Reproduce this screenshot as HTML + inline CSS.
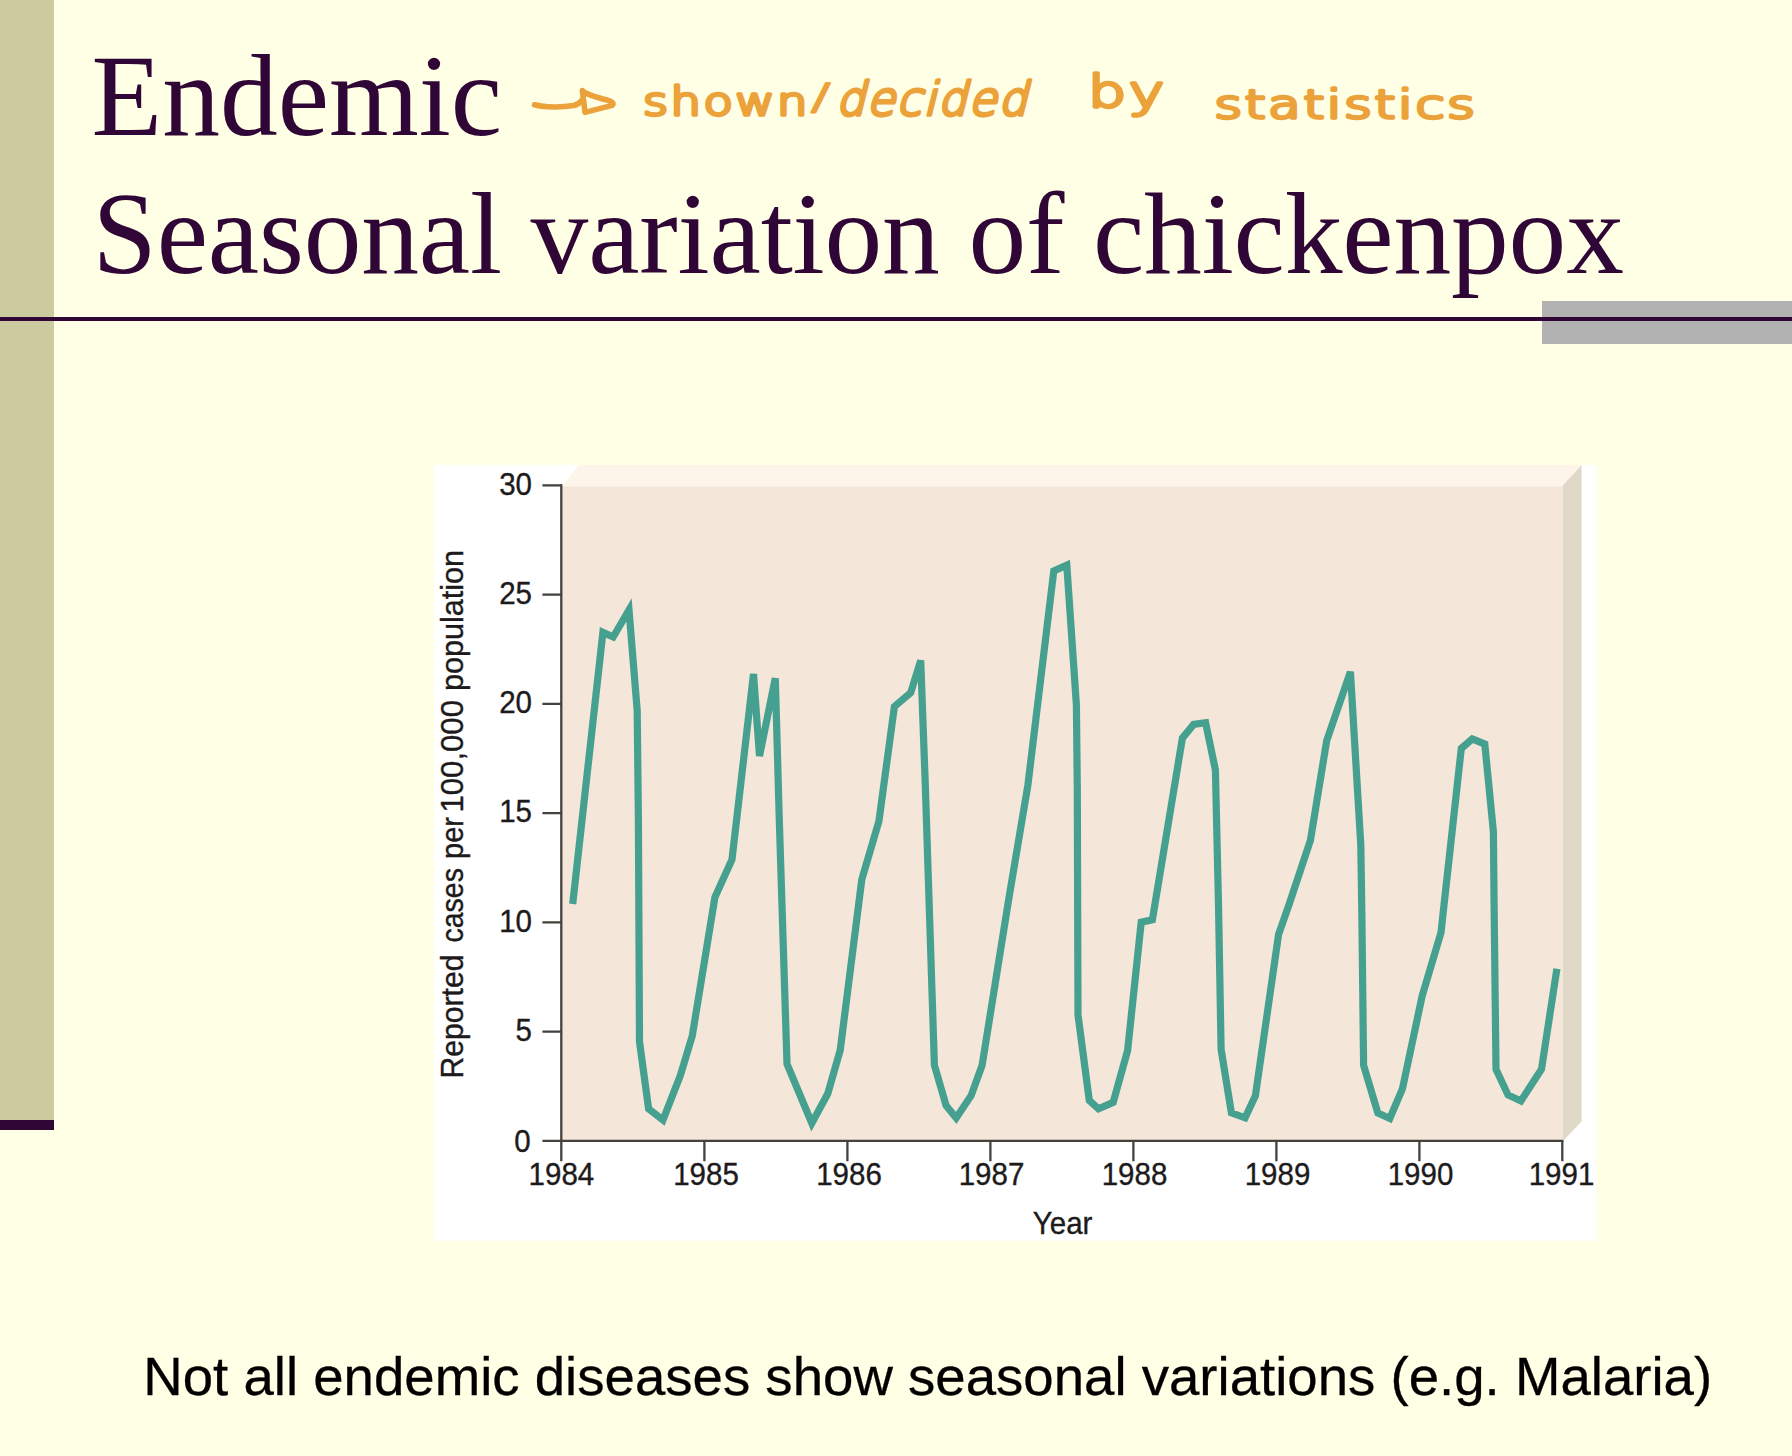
<!DOCTYPE html>
<html lang="en">
<head>
<meta charset="utf-8">
<title>Endemic - Seasonal variation of chickenpox</title>
<style>
  html, body { margin: 0; padding: 0; }
  body {
    width: 1792px; height: 1456px; overflow: hidden; position: relative;
    background: #ffffe6;
    font-family: "Liberation Sans", sans-serif;
  }
  .sidebar { position: absolute; left: 0; top: 0; width: 53.5px; height: 1119.5px; background: #cccba0; }
  .sidefoot { position: absolute; left: 0; top: 1119.5px; width: 53.5px; height: 10.2px; background: #300636; }
  .grayblock { position: absolute; left: 1542px; top: 301px; width: 250px; height: 43px; background: #b2b2b2; }
  .rule { position: absolute; left: 0; top: 316.7px; width: 1792px; height: 4.3px; background: #300636; }
  .title {
    position: absolute; margin: 0; white-space: nowrap;
    font-family: "Liberation Serif", serif; font-weight: normal;
    font-size: 115.5px; line-height: 1; color: #300636;
  }
  #t1 { left: 91.6px; top: 39.3px; }
  #t2 { left: 92.6px; top: 177.4px; letter-spacing: -0.16px; }
  .note {
    position: absolute; margin: 0; white-space: nowrap; color: #000;
    font-size: 54.6px; line-height: 1; left: 143.3px; top: 1350.4px;
    transform-origin: 0 44.6px; transform: scaleY(0.975); -webkit-text-stroke: 0.3px #000;
  }
  #hand { position: absolute; left: 0; top: 0; }
  #chart { position: absolute; left: 0; top: 0; }
</style>
</head>
<body>
  <div class="sidebar"></div>
  <div class="sidefoot"></div>
  <div class="grayblock"></div>
  <div class="rule"></div>

  <h1 class="title" id="t1">Endemic</h1>
  <h1 class="title" id="t2">Seasonal variation of chickenpox</h1>

  <!-- handwritten annotation -->
  <svg id="hand" width="1792" height="200" viewBox="0 0 1792 200">
    <g fill="none" stroke="#eba23a" stroke-width="5.6" stroke-linecap="round" stroke-linejoin="round">
      <path d="M534.5 104.8 C 545 107.6, 562 107.6, 573.5 105.6 C 577.5 104.8, 580 103, 581.5 100.5"/>
      <path d="M582.4 90.6 C 585.5 94.2, 595 97, 607 100 C 612.2 101.4, 614.4 103.6, 612.2 105.4 L 585 112.4 Z"/>
    </g>
    <g fill="#eba23a" stroke="#eba23a" stroke-width="3.4" stroke-linejoin="round" stroke-linecap="round" font-family="'DejaVu Sans', 'Liberation Sans', sans-serif" font-weight="200" font-size="39" letter-spacing="2">
      <text x="643" y="114.5" textLength="167" lengthAdjust="spacingAndGlyphs">shown</text>
      <text transform="translate(811,108.8) scale(1.6,1)" x="0" y="0" font-size="36" stroke-width="2" letter-spacing="0">/</text>
      <text transform="translate(836,115) skewX(-14)" x="0" y="0" font-size="46" stroke-width="3.7" textLength="193" lengthAdjust="spacingAndGlyphs">decided</text>
      <text x="1088" y="106.5" font-size="44" textLength="79" lengthAdjust="spacingAndGlyphs">by</text>
      <text x="1214.5" y="118" textLength="263" lengthAdjust="spacingAndGlyphs">statistics</text>
    </g>
  </svg>

  <!-- chart -->
  <svg id="chart" width="1792" height="1456" viewBox="0 0 1792 1456">
    <rect x="434" y="465" width="1162.5" height="775.7" fill="#ffffff"/>
    <!-- top bevel -->
    <polygon points="562,486.5 579,465 1581,465 1563,486.5" fill="#fdf5e9"/>
    <!-- right bevel -->
    <polygon points="1563,485.5 1581.5,465 1581.5,1121.5 1563,1141" fill="#e1d9c7"/>
    <!-- face -->
    <rect x="562" y="486.5" width="1001" height="654.5" fill="#f4e6d9"/>
    <!-- axes -->
    <g stroke="#45413c" stroke-width="2.3" fill="none">
      <path d="M561.3 484.2 V1161.3"/>
      <path d="M542.4 1140.8 H1563.4"/>
      <path d="M542.4 485.4 H561.3 M542.4 594.6 H561.3 M542.4 703.9 H561.3 M542.4 813.1 H561.3 M542.4 922.4 H561.3 M542.4 1031.6 H561.3"/>
      <path d="M704.4 1140.8 V1161.3 M847.4 1140.8 V1161.3 M990.4 1140.8 V1161.3 M1133.4 1140.8 V1161.3 M1276.4 1140.8 V1161.3 M1419.4 1140.8 V1161.3 M1562.3 1140.8 V1161.3"/>
    </g>
    <!-- data line -->
    <polyline id="series" fill="none" stroke="#45a08f" stroke-width="7.2" stroke-linejoin="miter" stroke-linecap="butt"
      points="572.7,904 602.9,632.4 613.2,637 629,610 637.2,710.5 638.4,820 639.5,1041.7 648.6,1108.8 663,1120 680.4,1075.3 692.3,1035.7 714.9,897.3 732,859.5 753.5,674 759.5,756 775.3,678.3 779.3,820 787,1064 811.8,1123.1 827.7,1093.8 840.2,1050.2 861.8,879.6 878.9,821.2 894.4,706.6 910.7,692.8 920.7,660.5 925.3,785 934.4,1065.3 946.1,1105.5 956.2,1118 971.2,1095.4 982.1,1065.3 1008.6,900 1027.9,785 1053.8,570.9 1066.8,565.2 1076.4,704.9 1077.3,790 1078,1015 1089.3,1100.5 1098.5,1108.8 1113.2,1102.3 1127.6,1050.5 1141.2,922.3 1152.4,919.7 1182.4,738.1 1193.6,724.4 1205.6,722.7 1215.4,769.9 1218.5,905 1221.1,1049.4 1231.4,1112.9 1245.1,1117.8 1255.4,1095.8 1278.6,934.3 1288.9,905 1310.4,840.3 1326.7,740.7 1350.4,671.8 1360.8,845 1361.8,910 1363.6,1065.3 1377.8,1112.9 1389.8,1118.5 1402.4,1088.9 1422.1,996.2 1441,932.6 1444,905 1461.3,748.4 1472.3,739 1484.8,744.1 1493.4,831.7 1494.1,905 1496,1069.2 1508,1094.9 1520.9,1100.9 1541.5,1069.2 1556.9,968.7"/>
    <!-- labels -->
    <g font-family="'Liberation Sans', sans-serif" font-size="29.5" fill="#1d1a1b" stroke="#1d1a1b" stroke-width="0.35">
      <g text-anchor="end" transform="scale(1,1.07)">
        <text x="532" y="462.43">30</text>
        <text x="532" y="564.30">25</text>
        <text x="532" y="666.45">20</text>
        <text x="532" y="768.50">15</text>
        <text x="532" y="870.65">10</text>
        <text x="532" y="972.71">5</text>
        <text x="530.6" y="1076.6">0</text>
      </g>
      <g text-anchor="middle" transform="scale(1,1.07)">
        <text x="561.4" y="1107.48">1984</text>
        <text x="706" y="1107.48">1985</text>
        <text x="849" y="1107.48">1986</text>
        <text x="991.5" y="1107.48">1987</text>
        <text x="1134.5" y="1107.48">1988</text>
        <text x="1277.5" y="1107.48">1989</text>
        <text x="1420.5" y="1107.48">1990</text>
        <text x="1561.5" y="1107.48">1991</text>
        <text x="1062.6" y="1153.74">Year</text>
      </g>
      <g transform="translate(463.4,1076.5) rotate(-90) scale(1,1.07)">
        <text x="-2" y="0" textLength="124" lengthAdjust="spacingAndGlyphs">Reported</text>
        <text x="134" y="0" textLength="74.5" lengthAdjust="spacingAndGlyphs">cases</text>
        <text x="217.5" y="0" textLength="42" lengthAdjust="spacingAndGlyphs">per</text>
        <text x="264" y="0" textLength="112.5" lengthAdjust="spacingAndGlyphs">100,000</text>
        <text x="385.5" y="0" textLength="141" lengthAdjust="spacingAndGlyphs">population</text>
      </g>
    </g>
  </svg>

  <p class="note">Not all endemic diseases show seasonal variations (e.g. Malaria)</p>
</body>
</html>
